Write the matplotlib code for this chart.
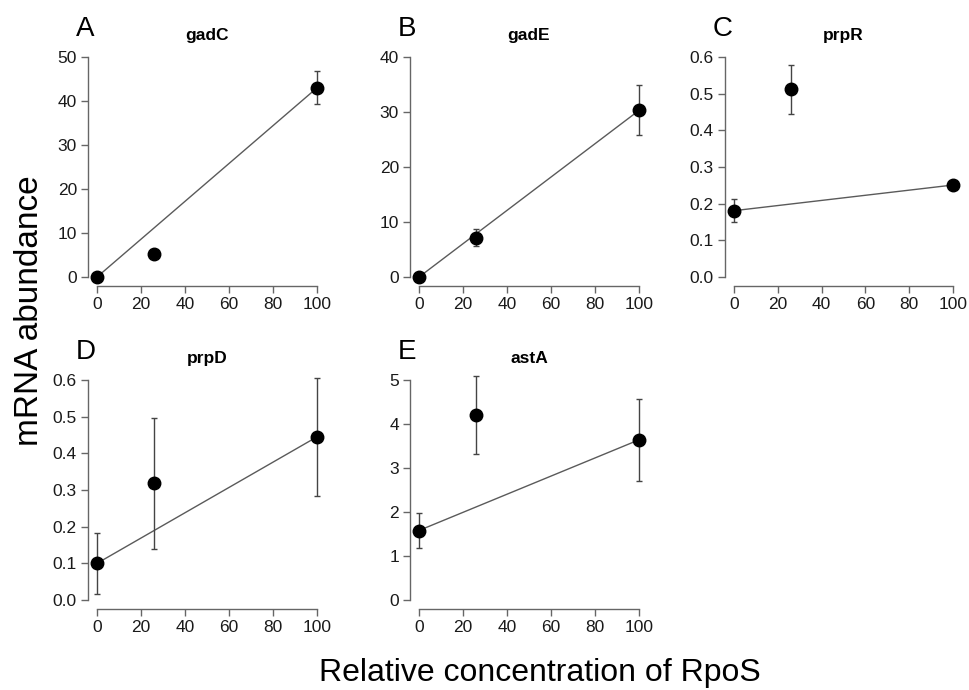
import numpy as np
import matplotlib
matplotlib.use('Agg')
import matplotlib.pyplot as plt
from matplotlib.ticker import FormatStrFormatter

plt.rcParams['font.family'] = ['Liberation Sans', 'DejaVu Sans']

# Relative RpoS concentration (x) shared by all panels
rpos = [0, 26, 100]

genes = ['gadC', 'gadE', 'prpR', 'prpD', 'astA']
letters = ['A', 'B', 'C', 'D', 'E']

gadC_mean = [0.0, 5.3, 43.0]
gadC_err = [0.0, 0.0, 3.8]
gadE_mean = [0.0, 7.15, 30.3]
gadE_err = [0.0, 1.55, 4.5]
prpR_mean = [0.181, 0.512, 0.251]
prpR_err = [0.032, 0.067, 0.0]
prpD_mean = [0.100, 0.318, 0.445]
prpD_err = [0.083, 0.178, 0.160]
astA_mean = [1.58, 4.20, 3.64]
astA_err = [0.40, 0.89, 0.93]

means = [gadC_mean, gadE_mean, prpR_mean, prpD_mean, astA_mean]
errs = [gadC_err, gadE_err, prpR_err, prpD_err, astA_err]
ytops = [50, 40, 0.6, 0.6, 5]
ysteps = [10, 10, 0.1, 0.1, 1]

W, H = 970, 690
fig = plt.figure(figsize=(W / 100, H / 100), dpi=100)

# axes boxes in pixels: (left, top, width, height)
boxes = [(88, 48, 238, 238), (410, 48, 238, 238), (725, 48, 237, 238),
         (88, 371, 238, 238), (410, 371, 238, 238)]

axc = '#666666'
for i in range(5):
    l, t, w, h = boxes[i]
    ax = fig.add_axes([l / W, (H - t - h) / H, w / W, h / H])
    m = means[i]
    e = errs[i]
    # line between the 0 and 100 points
    ax.plot([rpos[0], rpos[2]], [m[0], m[2]], color='#5a5a5a', lw=1, zorder=2)
    ax.errorbar(rpos, m, yerr=e, fmt='none', ecolor='#444444', elinewidth=1,
                capsize=2.5, capthick=1, zorder=3)
    ax.plot(rpos, m, 'o', color='black', ms=9, zorder=4)

    top = ytops[i]
    ax.set_xlim(-4, 104)
    ax.set_ylim(-0.04 * top, 1.04 * top)
    ax.set_xticks([0, 20, 40, 60, 80, 100])
    ax.set_yticks(np.arange(0, top + ysteps[i] / 2, ysteps[i]))
    if top < 1:
        ax.yaxis.set_major_formatter(FormatStrFormatter('%.1f'))
    for s in ['top', 'right']:
        ax.spines[s].set_visible(False)
    ax.spines['left'].set_bounds(0, top)
    ax.spines['bottom'].set_bounds(0, 100)
    for s in ['left', 'bottom']:
        ax.spines[s].set_color(axc)
        ax.spines[s].set_linewidth(1)
    ax.tick_params(length=5, width=1, color=axc, labelsize=12.5,
                   labelcolor='#1a1a1a', pad=3)
    ax.set_title(genes[i], fontsize=12.5, fontweight='bold', pad=6)
    fig.text((l - 12) / W, (H - t + 12) / H, letters[i], fontsize=20,
             ha='left', va='baseline')

fig.text(30 / W, (H - 311) / H, 'mRNA abundance', fontsize=24,
         rotation=90, ha='center', va='center')
fig.text(540 / W, (H - 681) / H, 'Relative concentration of RpoS',
         fontsize=23, ha='center', va='baseline')

plt.savefig('out.png', dpi=100)
plt.close()
